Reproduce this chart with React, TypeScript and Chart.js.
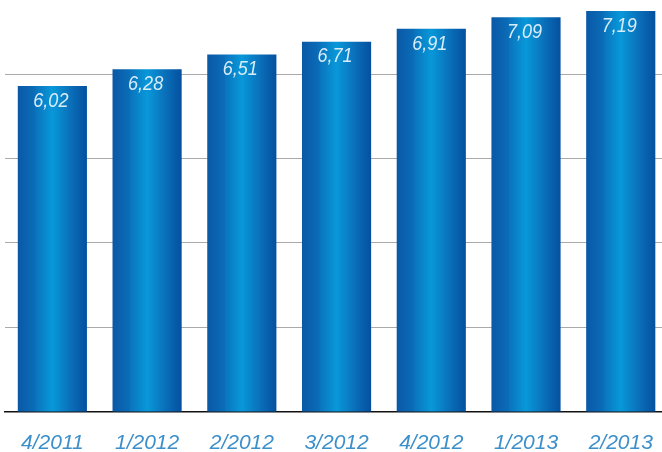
import React, { useEffect, useRef } from 'react';
import { Chart, registerables } from 'chart.js';

Chart.register(...registerables);

const categories = ['4/2011', '1/2012', '2/2012', '3/2012', '4/2012', '1/2013', '2/2013'];
const values = [6.02, 6.28, 6.51, 6.71, 6.91, 7.09, 7.19];
const gridValues = [0.94, 2.25, 3.57, 4.88, 6.19];
const yMin = 0.94;
const yMax = 7.36;

const BAR_PCT = 0.73;

export default function App() {
  const ref = useRef<HTMLCanvasElement>(null);

  useEffect(() => {
    const canvas = ref.current;
    if (!canvas) return;

    const valueLabels = {
      id: 'valueLabels',
      afterDatasetsDraw(chart: any) {
        const ctx = chart.ctx;
        const meta = chart.getDatasetMeta(0);
        ctx.save();
        ctx.font = 'italic 21px "Liberation Sans"';
        ctx.fillStyle = '#d8ecf9';
        ctx.textAlign = 'center';
        ctx.textBaseline = 'alphabetic';
        meta.data.forEach((el: any, i: number) => {
          const text = values[i].toFixed(2).replace('.', ',');
          ctx.save();
          ctx.translate(el.x - 1.5, el.y + 20.7);
          ctx.scale(0.86, 1);
          ctx.fillText(text, 0, 0);
          ctx.restore();
        });
        ctx.restore();
      },
    };

    const barGradient = (c: any) => {
      const chart = c.chart;
      const xs = chart.scales && chart.scales.x;
      if (!xs || c.dataIndex === undefined || !xs.width) return '#0a7cc4';
      const cx = xs.getPixelForValue(c.dataIndex);
      const w = (xs.width / categories.length) * BAR_PCT;
      const g = chart.ctx.createLinearGradient(cx - w / 2, 0, cx + w / 2, 0);
      g.addColorStop(0, '#0a58a6');
      g.addColorStop(0.25, '#0b6db8');
      g.addColorStop(0.26, '#0a74bd');
      g.addColorStop(0.5, '#0898da');
      g.addColorStop(0.78, '#0a6db7');
      g.addColorStop(1, '#04509f');
      return g;
    };

    const chart = new Chart(canvas, {
      type: 'bar',
      data: {
        labels: categories,
        datasets: [
          {
            data: values,
            backgroundColor: barGradient,
            borderWidth: 0,
            barPercentage: BAR_PCT,
            categoryPercentage: 1,
          },
        ],
      },
      options: {
        responsive: false,
        animation: false,
        layout: { padding: { left: 5, right: 2, top: 0, bottom: 0 } },
        plugins: {
          legend: { display: false },
          tooltip: { enabled: false },
        },
        scales: {
          x: {
            grid: { display: false, drawTicks: false },
            border: { display: true, color: '#111111', width: 1.5 },
            ticks: {
              color: '#3b8fca',
              font: { family: '"Liberation Sans"', size: 21, style: 'italic' },
              padding: 19,
              maxRotation: 0,
              autoSkip: false,
            },
            afterFit: (scale: any) => {
              scale.height = 40.5;
            },
          },
          y: {
            min: yMin,
            max: yMax,
            afterBuildTicks: (scale: any) => {
              scale.ticks = gridValues.map((v) => ({ value: v }));
            },
            grid: { color: '#aaaaaa', lineWidth: 1, drawTicks: false },
            border: { display: false },
            ticks: { display: false },
          },
        },
      },
      plugins: [valueLabels],
    } as any);

    return () => chart.destroy();
  }, []);

  return (
    <div
      style={{
        position: 'fixed',
        left: 0,
        top: 0,
        width: 662,
        height: 452,
        overflow: 'hidden',
        background: '#ffffff',
      }}
    >
      <canvas ref={ref} width={672} height={452} style={{ display: 'block' }} />
    </div>
  );
}
